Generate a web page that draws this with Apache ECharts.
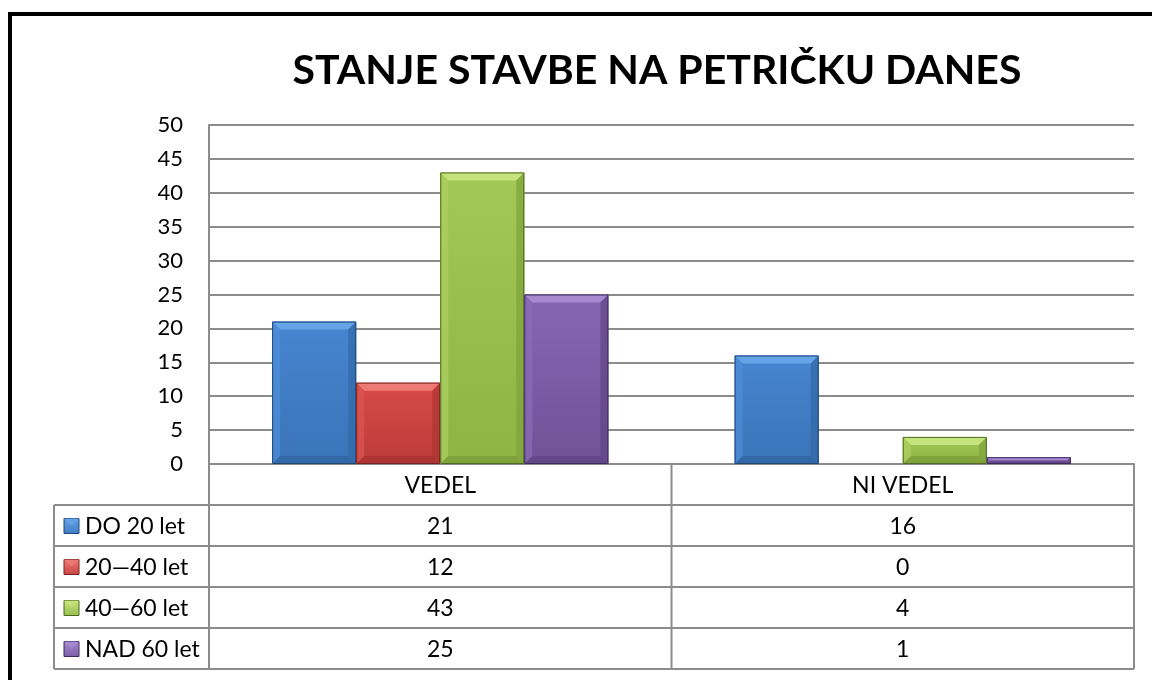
<!DOCTYPE html>
<html>
<head>
<meta charset="utf-8">
<script src="https://cdn.jsdelivr.net/npm/echarts@6/dist/echarts.min.js"></script>
<style>
html,body{margin:0;padding:0;background:#fff;}
#chart{width:1152px;height:680px;}
</style>
</head>
<body>
<div id="chart"></div>
<script>
const titleText = 'STANJE STAVBE NA PETRIČKU DANES';
const categories = ['VEDEL', 'NI VEDEL'];
const seriesNames = ['DO 20 let', '20—40 let', '40—60 let', 'NAD 60 let'];
const do20 = [21, 16];
const d20_40 = [12, 0];
const d40_60 = [43, 4];
const nad60 = [25, 1];
const yTicks = [0, 5, 10, 15, 20, 25, 30, 35, 40, 45, 50];

const seriesValues = [do20, d20_40, d40_60, nad60];
const palettes = [
  {body: ['#4785d0', '#3a74b8'], top: '#66a4e8', left: '#4f8fd8', right: '#3268a6', bottom: '#2f609a', stroke: '#1f4777', icon: '#3f7cc4'},
  {body: ['#d84a48', '#bc3c3a'], top: '#ee7a76', left: '#dc5552', right: '#ac3432', bottom: '#a03030', stroke: '#7a2220', icon: '#c84442'},
  {body: ['#a2c856', '#8eb444'], top: '#c6e47e', left: '#acd062', right: '#7ea23a', bottom: '#749634', stroke: '#4e6a20', icon: '#98be4c'},
  {body: ['#8666b2', '#705298'], top: '#a88ad2', left: '#8c6cb8', right: '#624688', bottom: '#5a407e', stroke: '#3e2a5c', icon: '#7a5ca8'}
];

const GRID = {left: 209, right: 18, top: 125, bottom: 216};
const FONT = 'Lato, "Open Sans", sans-serif';
const FS = 23;
const GAP = 0.273;

const chart = echarts.init(document.getElementById('chart'), null, {renderer: 'canvas'});

function makeRender(si) {
  const p = palettes[si];
  return function (params, api) {
    const cat = api.value(0), v = api.value(1);
    if (!v) return {type: 'group', children: []};
    const base = api.coord([cat, 0]);
    const top = api.coord([cat, v]);
    const bandW = api.size([1, 0])[0];
    const groupW = bandW * (1 - GAP);
    const barW = groupW / 4;
    const x0 = base[0] - groupW / 2 + si * barW;
    const x1 = x0 + barW;
    const y0 = top[1], y1 = base[1];
    const h = y1 - y0;
    const b = Math.min(8, h / 2, barW / 2);
    return {
      type: 'group',
      children: [
        {type: 'rect', shape: {x: x0, y: y0, width: barW, height: h},
          style: {fill: new echarts.graphic.LinearGradient(0, 0, 0, 1, [{offset: 0, color: p.body[0]}, {offset: 1, color: p.body[1]}])}},
        {type: 'polygon', shape: {points: [[x0, y0], [x1, y0], [x1 - b, y0 + b], [x0 + b, y0 + b]]}, style: {fill: p.top}},
        {type: 'polygon', shape: {points: [[x0, y0], [x0 + b, y0 + b], [x0 + b, y1 - b], [x0, y1]]}, style: {fill: p.left, opacity: 0.7}},
        {type: 'polygon', shape: {points: [[x1, y0], [x1 - b, y0 + b], [x1 - b, y1 - b], [x1, y1]]}, style: {fill: p.right, opacity: 0.7}},
        {type: 'polygon', shape: {points: [[x0, y1], [x0 + b, y1 - b], [x1 - b, y1 - b], [x1, y1]]}, style: {fill: p.bottom, opacity: 0.6}},
        {type: 'rect', shape: {x: x0 + 0.5, y: y0 + 0.5, width: barW - 1, height: h - 1},
          style: {fill: 'none', stroke: p.stroke, lineWidth: 1}}
      ]
    };
  };
}

const series = seriesNames.map((name, si) => ({
  name: name,
  type: 'custom',
  renderItem: makeRender(si),
  encode: {x: 0, y: 1},
  data: seriesValues[si].map((v, ci) => [ci, v]),
  z: 3
}));

function buildGraphics() {
  const W = 1152, H = 680;
  const gx0 = GRID.left, gx1 = W - GRID.right;
  const gy1 = H - GRID.bottom;
  const legendX0 = 54;
  const headerH = 41, rowH = 41;
  const colW = (gx1 - gx0) / categories.length;
  const lineStyle = {stroke: '#8c8c8c', lineWidth: 2};
  const els = [];
  els.push({type: 'line', shape: {x1: 8, y1: 14, x2: W, y2: 14}, style: {stroke: '#000', lineWidth: 4}, z: 10});
  els.push({type: 'line', shape: {x1: 10, y1: 12, x2: 10, y2: H}, style: {stroke: '#000', lineWidth: 4}, z: 10});
  const tableBottom = gy1 + headerH + rowH * seriesNames.length;
  els.push({type: 'line', shape: {x1: gx0, y1: gy1, x2: gx0, y2: tableBottom}, style: lineStyle});
  for (let c = 1; c <= categories.length; c++) {
    const x = gx0 + c * colW;
    els.push({type: 'line', shape: {x1: x, y1: gy1, x2: x, y2: tableBottom}, style: lineStyle});
  }
  els.push({type: 'line', shape: {x1: legendX0, y1: gy1 + headerH, x2: legendX0, y2: tableBottom}, style: lineStyle});
  for (let r = 0; r <= seriesNames.length; r++) {
    const y = gy1 + headerH + r * rowH;
    els.push({type: 'line', shape: {x1: legendX0, y1: y, x2: gx1, y2: y}, style: lineStyle});
  }
  categories.forEach((c, ci) => {
    els.push({type: 'text', x: gx0 + (ci + 0.5) * colW, y: gy1 + headerH / 2 + 1,
      style: {text: c, font: FS + 'px ' + FONT, fill: '#000', align: 'center', verticalAlign: 'middle'}});
  });
  seriesNames.forEach((name, si) => {
    const yc = gy1 + headerH + (si + 0.5) * rowH;
    const p = palettes[si];
    els.push({type: 'rect', shape: {x: 64, y: yc - 7, width: 15, height: 15},
      style: {fill: new echarts.graphic.LinearGradient(0, 0, 0, 1, [{offset: 0, color: p.top}, {offset: 1, color: p.icon}]), stroke: p.stroke, lineWidth: 1}});
    els.push({type: 'polygon', shape: {points: [[64, yc - 7], [79, yc - 7], [71.5, yc]]}, style: {fill: p.top, opacity: 0.8}});
    els.push({type: 'text', x: 85, y: yc + 1,
      style: {text: name, font: FS + 'px ' + FONT, fill: '#000', align: 'left', verticalAlign: 'middle'}});
    seriesValues[si].forEach((v, ci) => {
      els.push({type: 'text', x: gx0 + (ci + 0.5) * colW, y: yc + 1,
        style: {text: String(v), font: FS + 'px ' + FONT, fill: '#000', align: 'center', verticalAlign: 'middle'}});
    });
  });
  return els;
}

const option = {
  backgroundColor: '#fff',
  animation: false,
  title: {
    text: titleText, left: 652, top: 45, textAlign: 'center',
    textStyle: {fontFamily: FONT, fontWeight: 'bold', fontSize: 41, color: '#000'}
  },
  grid: GRID,
  xAxis: {
    type: 'category', data: categories,
    axisLine: {show: true, lineStyle: {color: '#8c8c8c', width: 2}},
    axisTick: {show: false}, axisLabel: {show: false}, splitLine: {show: false}
  },
  yAxis: {
    type: 'value', min: 0, max: yTicks[yTicks.length - 1], interval: yTicks[1] - yTicks[0],
    axisLine: {show: true, lineStyle: {color: '#8c8c8c', width: 2}},
    axisTick: {show: false},
    axisLabel: {fontFamily: FONT, fontSize: FS - 1, color: '#000', margin: 26},
    splitLine: {show: true, lineStyle: {color: '#8c8c8c', width: 2}}
  },
  series: series,
  graphic: {elements: buildGraphics()}
};
chart.setOption(option);
</script>
</body>
</html>
